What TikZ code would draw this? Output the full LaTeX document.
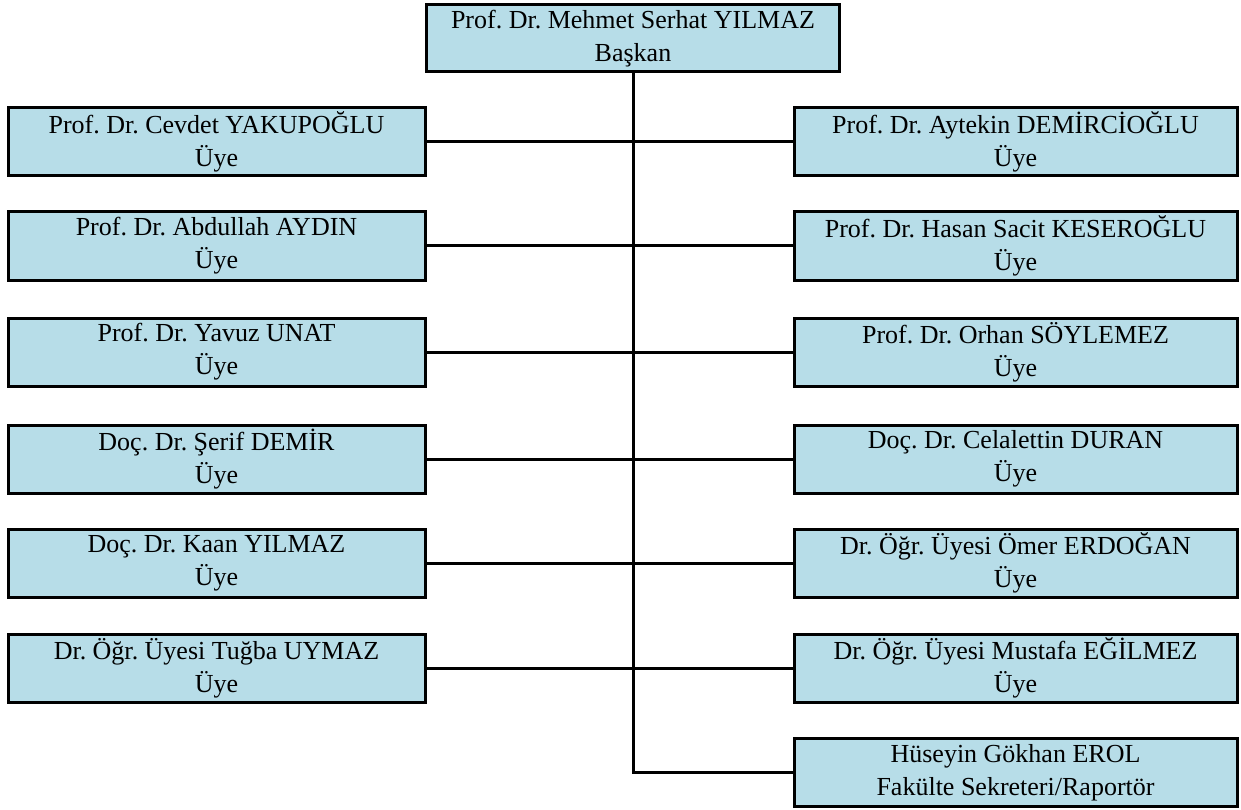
\documentclass[tikz,border=0pt]{standalone}
\usepackage{fontspec}
\setmainfont{Liberation Serif}
\frenchspacing
\definecolor{kutu}{HTML}{B7DDE8}

\begin{document}
\begin{tikzpicture}[x=1pt,y=-1pt,
	kisi/.style={draw,fill=kutu,line width=3pt,inner sep=0pt,align=center,
		font=\fontsize{26}{33}\selectfont,minimum height=68pt},
	solkutu/.style={kisi,minimum width=417pt},
	sagkutu/.style={kisi,minimum width=443pt},
	hat/.style={line width=3pt}]
\useasboundingbox (0,0) rectangle (1241,810);
\node[kisi,minimum width=413pt,minimum height=67pt] (baskan) at (633,38.5)
	{Prof. Dr. Mehmet Serhat YILMAZ\\Başkan};
% sol taraf
\node[solkutu] (sol1) at (216.5,142) {Prof. Dr. Cevdet YAKUPOĞLU\\Üye};
\node[solkutu] (sol2) at (216.5,246) {Prof. Dr. Abdullah AYDIN\\Üye};
\node[solkutu] (sol3) at (216.5,352) {Prof. Dr. Yavuz UNAT\\Üye};
\node[solkutu] (sol4) at (216.5,459) {Doç. Dr. Şerif DEMİR\\Üye};
\node[solkutu] (sol5) at (216.5,563) {Doç. Dr. Kaan YILMAZ\\Üye};
\node[solkutu] (sol6) at (216.5,668) {Dr. Öğr. Üyesi Tuğba UYMAZ\\Üye};
% sag taraf
\node[sagkutu] (sag1) at (1015.5,142) {Prof. Dr. Aytekin DEMİRCİOĞLU\\Üye};
\node[sagkutu] (sag2) at (1015.5,246) {Prof. Dr. Hasan Sacit KESEROĞLU\\Üye};
\node[sagkutu] (sag3) at (1015.5,352) {Prof. Dr. Orhan SÖYLEMEZ\\Üye};
\node[sagkutu] (sag4) at (1015.5,459) {Doç. Dr. Celalettin DURAN\\Üye};
\node[sagkutu] (sag5) at (1015.5,563) {Dr. Öğr. Üyesi Ömer ERDOĞAN\\Üye};
\node[sagkutu] (sag6) at (1015.5,668) {Dr. Öğr. Üyesi Mustafa EĞİLMEZ\\Üye};
\node[sagkutu] (sekreter) at (1015.5,772.5)
	{Hüseyin Gökhan EROL\\Fakülte Sekreteri/Raportör};
% baglantilar
\draw[hat] (baskan.south) |- (sekreter.west);
\draw[hat] (sol1.east) -- (sag1.west);
\draw[hat] (sol2.east) -- (sag2.west);
\draw[hat] (sol3.east) -- (sag3.west);
\draw[hat] (sol4.east) -- (sag4.west);
\draw[hat] (sol5.east) -- (sag5.west);
\draw[hat] (sol6.east) -- (sag6.west);
\end{tikzpicture}
\end{document}
